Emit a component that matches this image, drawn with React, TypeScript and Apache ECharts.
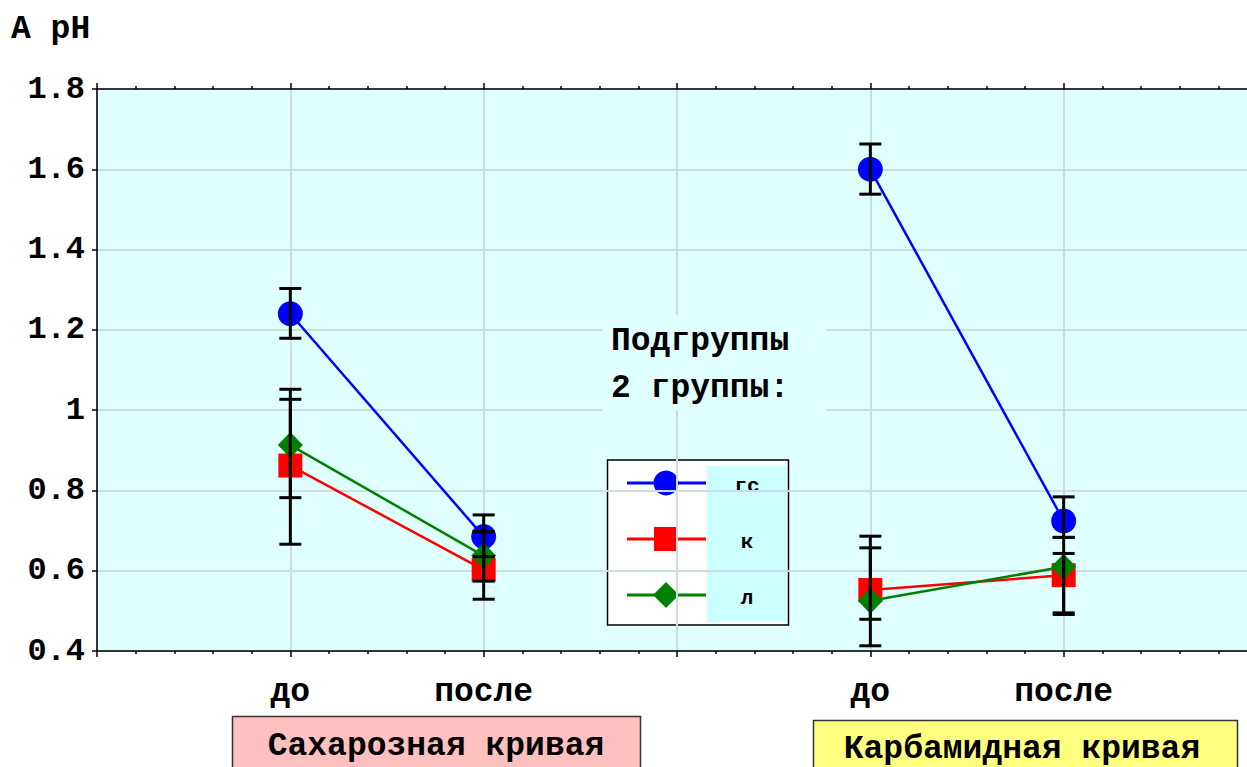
import React, { useEffect, useRef } from "react";
import * as echarts from "echarts";

// Positions on the x scale and their labels
const tickPositions = [1, 2, 4, 5];
const tickLabels = ["до", "после", "до", "после"];
const curveNames = ["Сахарозная кривая", "Карбамидная кривая"];
const subgroupNames = ["гс", "к", "л"];

// Means and error-bar bounds, one value per tick position
const gsMean = [1.24, 0.685, 1.6, 0.724];
const gsLow = [1.179, 0.635, 1.538, 0.683];
const gsHigh = [1.303, 0.739, 1.663, 0.784];

const kMean = [0.862, 0.602, 0.552, 0.589];
const kLow = [0.666, 0.529, 0.413, 0.491];
const kHigh = [1.052, 0.697, 0.686, 0.683];

const lMean = [0.913, 0.637, 0.525, 0.61];
const lLow = [0.782, 0.574, 0.479, 0.495];
const lHigh = [1.027, 0.697, 0.657, 0.643];

const FONT = "'Liberation Mono', 'Courier New', monospace";
const PLOT_BG = "#e0ffff";
const GRID_LINE = "#cddcdc";

type Sub = { name: string; color: string; symbol: string; size: number | number[]; mean: number[]; low: number[]; high: number[] };

const subs: Sub[] = [
  { name: subgroupNames[0], color: "#0000ff", symbol: "circle", size: 25, mean: gsMean, low: gsLow, high: gsHigh },
  { name: subgroupNames[1], color: "#ff0000", symbol: "rect", size: 24, mean: kMean, low: kLow, high: kHigh },
  { name: subgroupNames[2], color: "#008000", symbol: "diamond", size: [25, 26], mean: lMean, low: lLow, high: lHigh },
];

export default function App() {
  const ref = useRef<HTMLDivElement>(null);

  useEffect(() => {
    if (!ref.current) return;
    const chart = echarts.init(ref.current, undefined, { renderer: "svg" });

    const labelMap: Record<number, string> = {};
    tickPositions.forEach((p, i) => (labelMap[p] = tickLabels[i]));

    const lineSeries: any[] = [];
    subs.forEach((s, si) => {
      // one segment per curve: (до, после)
      [0, 2].forEach((start) => {
        lineSeries.push({
          type: "line",
          name: s.name,
          z: 2 + si,
          data: [
            [tickPositions[start], s.mean[start]],
            [tickPositions[start + 1], s.mean[start + 1]],
          ],
          symbol: s.symbol,
          symbolSize: s.size,
          itemStyle: { color: s.color },
          lineStyle: { color: s.color, width: 2.5 },
          silent: true,
        });
      });
    });

    const errData: number[][] = [];
    subs.forEach((s) => {
      tickPositions.forEach((p, i) => errData.push([p, s.low[i], s.high[i]]));
    });

    const errorSeries = {
      type: "custom",
      z: 10,
      silent: true,
      data: errData,
      encode: { x: 0, y: [1, 2] },
      renderItem: (_params: any, api: any) => {
        const x = api.value(0);
        const top = api.coord([x, api.value(2)]);
        const bot = api.coord([x, api.value(1)]);
        const hw = 11;
        const style = { stroke: "#000", lineWidth: 3 };
        return {
          type: "group",
          children: [
            { type: "line", shape: { x1: top[0], y1: top[1], x2: bot[0], y2: bot[1] }, style },
            { type: "line", shape: { x1: top[0] - hw, y1: top[1], x2: top[0] + hw, y2: top[1] }, style },
            { type: "line", shape: { x1: bot[0] - hw, y1: bot[1], x2: bot[0] + hw, y2: bot[1] }, style },
          ],
        };
      },
    };

    const legendRows = [483, 539, 595];
    const legendChildren: any[] = [
      { type: "rect", shape: { x: 607.5, y: 460, width: 181, height: 165 }, style: { fill: "#ffffff", stroke: "#000", lineWidth: 1.5 } },
      { type: "rect", shape: { x: 707, y: 466, width: 80, height: 156 }, style: { fill: "#ccffff" } },
    ];
    subs.forEach((s, i) => {
      const y = legendRows[i];
      legendChildren.push({ type: "line", shape: { x1: 627, y1: y, x2: 706, y2: y }, style: { stroke: s.color, lineWidth: 3 } });
      if (s.symbol === "circle") {
        legendChildren.push({ type: "circle", shape: { cx: 666, cy: y, r: 12.5 }, style: { fill: s.color } });
      } else if (s.symbol === "rect") {
        legendChildren.push({ type: "rect", shape: { x: 654, y: y - 12, width: 24, height: 24 }, style: { fill: s.color } });
      } else {
        legendChildren.push({
          type: "polygon",
          shape: { points: [[666, y - 13], [679, y], [666, y + 13], [653, y]] },
          style: { fill: s.color },
        });
      }
      legendChildren.push({
        type: "text",
        x: 747,
        y: y + 3,
        style: { text: s.name, font: `bold 21px ${FONT}`, fill: "#000", align: "center", verticalAlign: "middle" },
      });
    });

    const axisLabelFont = { fontFamily: FONT, fontWeight: "bold" as const, fontSize: 33, color: "#000" };

    chart.setOption({
      animation: false,
      grid: {
        left: 97,
        top: 89,
        right: -10,
        bottom: 116,
        show: true,
        backgroundColor: PLOT_BG,
        borderWidth: 0,
        containLabel: false,
        outerBoundsMode: "none",
      },
      xAxis: [
        {
          type: "value",
          position: "bottom",
          min: 0,
          max: 6,
          interval: 1,
          axisLine: { show: true, onZero: false, lineStyle: { color: "#000", width: 1.5 } },
          axisTick: { show: true, length: 6, lineStyle: { color: "#000", width: 1.5 } },
          minorTick: { show: true, splitNumber: 5, length: 3, lineStyle: { color: "#000", width: 1.5 } },
          splitLine: { show: true, lineStyle: { color: GRID_LINE, width: 2 } },
          axisLabel: {
            ...axisLabelFont,
            margin: 25,
            formatter: (v: number) => labelMap[v] ?? "",
          },
        },
        {
          type: "value",
          position: "top",
          min: 0,
          max: 6,
          interval: 1,
          axisLine: { show: true, onZero: false, lineStyle: { color: "#000", width: 1.5 } },
          axisTick: { show: true, length: 6, lineStyle: { color: "#000", width: 1.5 } },
          minorTick: { show: true, splitNumber: 5, length: 3, lineStyle: { color: "#000", width: 1.5 } },
          splitLine: { show: false },
          axisLabel: { show: false },
        },
      ],
      yAxis: {
        type: "value",
        min: 0.4,
        max: 1.8,
        interval: 0.2,
        axisLine: { show: true, onZero: false, lineStyle: { color: "#000", width: 1.5 } },
        axisTick: { show: true, length: 5, lineStyle: { color: "#000", width: 1.5 } },
        splitLine: { show: true, lineStyle: { color: GRID_LINE, width: 2 } },
        axisLabel: { ...axisLabelFont, fontSize: 32, margin: 12 },
      },
      graphic: [
        {
          type: "text",
          left: 11,
          top: 13,
          style: { text: "A pH", font: `bold 33px ${FONT}`, fill: "#000" },
        },
        // caption over the plot, with its own backdrop
        { type: "rect", z: 1, shape: { x: 602, y: 315, width: 224, height: 96 }, style: { fill: PLOT_BG } },
        {
          type: "text",
          z: 1,
          x: 611,
          y: 341,
          style: { text: "Подгруппы", font: `bold 33px ${FONT}`, fill: "#000", verticalAlign: "middle" },
        },
        {
          type: "text",
          z: 1,
          x: 611,
          y: 388,
          style: { text: "2 группы:", font: `bold 33px ${FONT}`, fill: "#000", verticalAlign: "middle" },
        },
        { type: "group", z: 5, children: legendChildren },
        // curve name boxes below the axis
        { type: "rect", shape: { x: 232.5, y: 716.5, width: 408, height: 70 }, style: { fill: "#ffc0c0", stroke: "#333", lineWidth: 1.5 } },
        {
          type: "text",
          x: 436,
          y: 746,
          style: { text: curveNames[0], font: `bold 33px ${FONT}`, fill: "#000", align: "center", verticalAlign: "middle" },
        },
        { type: "rect", shape: { x: 813.5, y: 720.5, width: 424, height: 70 }, style: { fill: "#ffff80", stroke: "#333", lineWidth: 1.5 } },
        {
          type: "text",
          x: 1022,
          y: 749,
          style: { text: curveNames[1], font: `bold 33px ${FONT}`, fill: "#000", align: "center", verticalAlign: "middle" },
        },
      ],
      series: [...lineSeries, errorSeries],
    });

    return () => chart.dispose();
  }, []);

  return (
    <div
      ref={ref}
      style={{ position: "absolute", left: 0, top: 0, width: 1247, height: 767, background: "#fff" }}
    />
  );
}
